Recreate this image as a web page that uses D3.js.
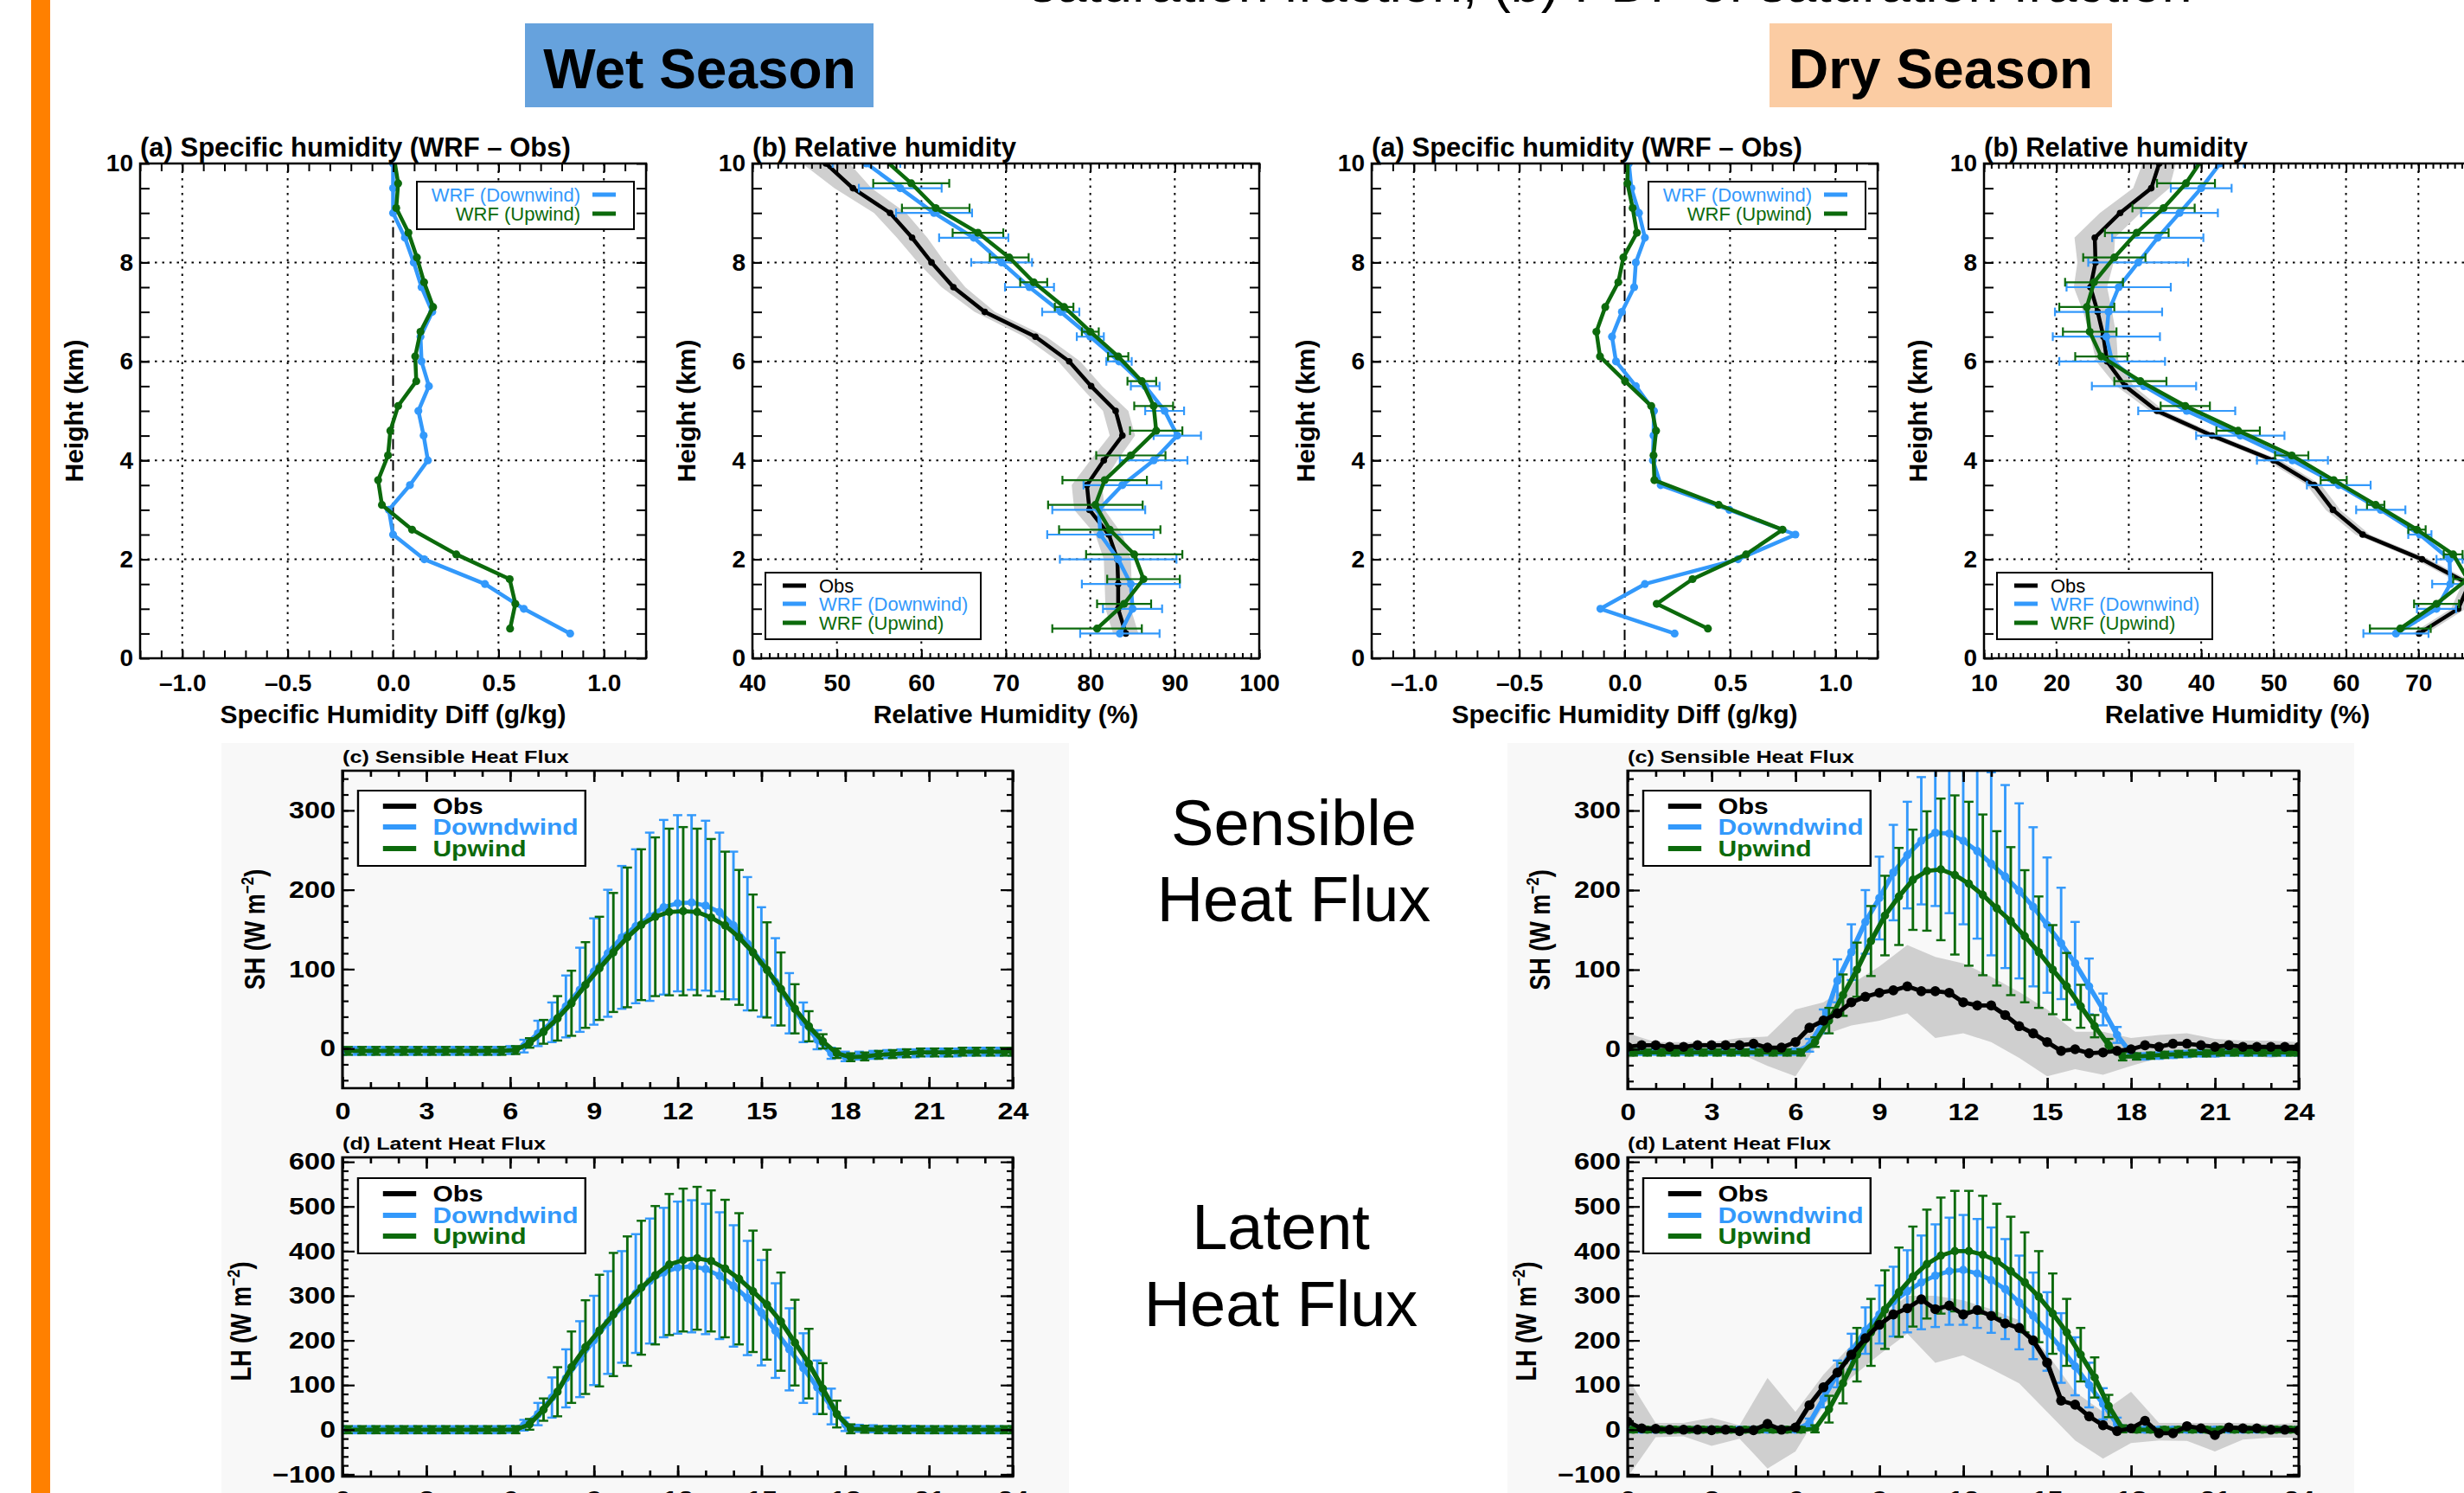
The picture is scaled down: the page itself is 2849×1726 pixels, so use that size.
<!DOCTYPE html>
<html><head><meta charset="utf-8">
<script src="https://cdn.jsdelivr.net/npm/d3@7"></script>
<style>
body{margin:0;background:#fff}
svg{display:block}
text{font-family:"Liberation Sans",Arial,Helvetica,sans-serif}
</style>
</head><body>
<svg id="c" width="2849" height="1726"></svg>
<script>
// ===================== DATA =====================
// vertical profiles
const heightsDown = [0.5,1,1.5,2,2.5,3,3.5,4,4.5,5,5.5,6,6.5,7,7.5,8,8.5,9,9.5,10];
const heightsUp   = [0.6,1.1,1.6,2.1,2.6,3.1,3.6,4.1,4.6,5.1,5.6,6.1,6.6,7.1,7.6,8.1,8.6,9.1,9.6,10.1];

const qDownWet = [0.84,0.62,0.436,0.148,0.0,-0.02,0.08,0.165,0.145,0.12,0.17,0.135,0.13,0.186,0.135,0.098,0.056,0.0,0.0,0.0];
const qUpWet   = [0.555,0.58,0.553,0.30,0.09,-0.053,-0.071,-0.024,-0.013,0.024,0.11,0.105,0.13,0.19,0.147,0.113,0.073,0.015,0.024,0.005];
const qDownDry = [0.237,-0.115,0.096,0.538,0.81,0.497,0.171,0.134,0.137,0.139,0.053,-0.041,-0.06,-0.013,0.045,0.053,0.096,0.068,0.032,0.02];
const qUpDry   = [0.395,0.152,0.322,0.576,0.749,0.446,0.141,0.137,0.149,0.126,0.002,-0.117,-0.134,-0.092,-0.03,-0.006,0.058,0.038,0.013,0.015];

const rhObsWet    = [84.2,83.3,83.3,83.2,82.2,79.9,79.6,81.6,83.8,83.0,80.1,77.5,73.5,67.5,63.8,61.2,58.9,56.3,51.9,48.7];
const rhObsWetSd  = [1.5,1.5,1.6,1.6,1.6,1.8,1.8,1.6,1.5,1.5,1.3,1.3,1.3,1.2,1.4,1.6,1.8,1.9,2.2,2.8];
const rhDownWet   = [83.5,85.0,84.8,83.3,81.2,81.0,83.8,87.5,90.3,88.8,86.5,83.4,80.0,76.5,72.8,69.5,66.2,61.5,57.5,53.5];
const rhDownWetSd = [4.7,3.5,5.8,6.9,6.3,5.5,4.6,4.0,2.8,2.3,1.7,1.5,1.6,2.2,2.9,3.6,4.1,4.5,4.9,4.0];
const rhUpWet     = [80.8,84.0,86.3,85.2,82.3,80.6,81.7,84.8,87.8,87.5,86.1,83.3,80.0,76.9,73.3,70.4,66.7,61.7,58.8,55.5];
const rhUpWetSd   = [5.3,3.2,4.3,5.7,6.0,5.6,5.0,4.1,3.1,2.3,1.7,1.2,1.0,1.1,1.6,2.3,3.0,4.0,4.5,4.0];

const rhObsDry    = [70.1,75.5,77.0,70.5,62.3,58.2,55.6,50.0,41.5,33.9,29.5,27.0,26.5,25.7,24.7,25.4,25.3,28.8,33.1,34.2];
const rhObsDrySd  = [1.0,1.0,1.0,1.0,1.0,1.0,1.0,1.0,1.0,1.0,1.2,1.5,1.8,2.0,2.3,2.5,2.8,2.8,2.5,2.3];
const rhDownDry   = [66.9,72.5,74.4,74.3,70.2,64.8,59.0,52.6,45.4,38.0,32.1,27.7,26.9,27.2,28.6,31.3,34.0,37.0,40.0,42.6];
const rhDownDrySd = [4.5,2.7,2.5,1.8,1.6,3.4,4.4,4.9,6.1,6.7,7.2,7.3,7.4,7.4,7.2,6.9,6.3,5.3,4.2,3.3];
const rhUpDry     = [67.5,72.5,76.8,74.8,69.8,64.1,58.3,52.5,45.1,37.8,31.6,26.2,24.6,24.2,25.2,28.0,31.1,34.8,37.9,40.2];
const rhUpDrySd   = [4.2,3.1,2.0,1.3,1.2,1.2,1.8,2.3,3.0,3.4,3.6,3.6,3.7,3.8,4.0,4.3,4.4,4.3,4.0,3.5];

// diurnal fluxes (local hour)
const hours   = [0,0.5,1,1.5,2,2.5,3,3.5,4,4.5,5,5.5,6,6.5,7,7.5,8,8.5,9,9.5,10,10.5,11,11.5,12,12.5,13,13.5,14,14.5,15,15.5,16,16.5,17,17.5,18,18.5,19,19.5,20,20.5,21,21.5,22,22.5,23,23.5,24];
const hoursUp = [0.2,0.7,1.2,1.7,2.2,2.7,3.2,3.7,4.2,4.7,5.2,5.7,6.2,6.7,7.2,7.7,8.2,8.7,9.2,9.7,10.2,10.7,11.2,11.7,12.2,12.7,13.2,13.7,14.2,14.7,15.2,15.7,16.2,16.7,17.2,17.7,18.2,18.7,19.2,19.7,20.2,20.7,21.2,21.7,22.2,22.7,23.2,23.7,24];
const bandHours = [0,1,2,3,4,5,6,7,8,9,10,11,12,13,14,15,16,17,18,19,20,21,22,23,24];

const shDownWet   = [-3,-3,-3,-3,-3,-3,-3,-3,-3,-3,-3,-3,-2,3,19,33,53,74,97,120,140,154,166,178,183,184,180,172,155,132,109,84,57,33,11,-6,-10,-9,-8,-7,-6,-6,-5,-5,-5,-4,-4,-4,-4];
const shDownWetSd = [5,5,5,5,5,5,5,5,5,5,5,5,5,8,16,25,39,53,67,80,90,97,106,110,111,110,107,100,93,84,69,55,38,25,12,7,6,5,5,5,5,5,5,5,5,5,5,5,5];
const shUpWet     = [-3,-3,-3,-3,-3,-3,-3,-3,-3,-3,-3,-3,-2,7,21,38,57,80,101,121,140,156,166,172,173,172,165,155,140,121,99,75,50,28,9,-6,-11,-10,-8,-7,-6,-5,-5,-5,-4,-4,-4,-4,-4];
const shUpWetSd   = [5,5,5,5,5,5,5,5,5,5,5,5,5,6,15,28,41,54,65,75,88,95,100,105,106,105,99,93,85,73,60,46,31,19,9,6,5,5,5,5,5,5,5,5,5,5,5,5,5];

const lhDownWet   = [0,0,0,0,0,0,0,0,0,0,0,0,1,10,35,72,115,158,200,240,275,305,333,352,363,366,360,345,322,295,262,222,180,138,95,52,12,3,2,1,1,1,0,0,0,0,0,0,0];
const lhDownWetSd = [8,8,8,8,8,8,8,8,8,8,8,8,8,12,25,45,65,85,100,115,125,133,140,145,148,148,146,142,136,128,118,106,92,78,60,40,15,8,8,8,8,8,8,8,8,8,8,8,8];
const lhUpWet     = [0,0,0,0,0,0,0,0,0,0,0,0,0,12,45,85,140,185,222,258,288,318,346,370,380,384,378,361,338,310,280,242,195,148,92,35,2,1,0,0,0,0,0,0,0,0,0,0,0];
const lhUpWetSd   = [8,8,8,8,8,8,8,8,8,8,8,8,8,12,25,55,80,105,125,138,145,150,155,158,160,160,158,154,147,136,123,110,96,78,57,30,10,8,8,8,8,8,8,8,8,8,8,8,8];

const shObsDry    = [3,5,5,3,3,5,5,5,5,7,2,2,9,27,36,45,59,66,71,74,79,73,73,71,59,55,55,43,29,20,9,-2,0,-5,-4,-2,0,5,3,7,7,5,3,5,3,3,3,3,3];
const shObsDryLo  = [-11,-5,-7,-3,-5,-21,-34,18,30,36,45,14,20,9,-11,-34,-25,-32,-21,-11,-9,-11,-7,-11,-7];
const shObsDryHi  = [20,9,9,9,14,16,50,59,82,104,131,116,108,91,72,50,22,22,14,18,20,13,11,11,9];
const shDownDry   = [-3,-3,-3,-3,-3,-3,-3,-3,-3,-3,-3,-3,-3,5,35,86,122,160,190,222,244,262,272,271,262,249,233,217,199,179,156,133,108,79,50,18,-5,-9,-8,-7,-6,-5,-5,-4,-4,-4,-4,-4,-4];
const shDownDrySd = [4,4,4,4,4,4,4,4,4,4,4,4,4,8,15,27,35,40,52,60,67,80,92,100,105,110,115,115,110,100,85,70,52,35,20,10,5,4,4,4,4,4,4,4,4,4,4,4,4];
const shUpDry     = [-4,-4,-4,-4,-4,-4,-4,-4,-4,-4,-4,-4,-4,9,36,68,100,136,168,192,213,224,226,219,208,194,177,161,142,122,100,79,54,29,5,-9,-9,-8,-7,-6,-5,-5,-4,-4,-4,-4,-4,-4,-4];
const shUpDrySd   = [4,4,4,4,4,4,4,4,4,4,4,4,4,6,16,26,34,44,50,61,63,75,89,100,103,101,97,93,83,70,56,42,27,14,8,5,4,4,4,4,4,4,4,4,4,4,4,4,4];

const lhObsDry    = [18,3,2,0,0,0,-1,0,-3,-1,13,0,5,55,95,128,168,205,235,258,272,292,270,278,258,268,255,238,228,200,150,65,56,30,10,-3,3,20,-8,-8,8,3,-12,5,3,3,0,0,-2];
const lhObsDryLo  = [-106,-17,-15,-36,-20,-87,-49,53,117,168,215,150,167,136,104,40,-24,-65,-30,-24,-25,-49,-22,-18,-18];
const lhObsDryHi  = [116,15,15,27,10,116,40,123,190,250,300,300,290,270,245,170,85,40,85,15,15,15,15,12,15];
const lhDownDry   = [0,0,0,0,0,0,0,0,0,0,0,0,0,15,70,125,175,222,258,287,310,330,345,355,358,350,335,315,285,255,220,183,142,100,58,12,2,0,0,0,0,0,0,0,0,0,0,0,0];
const lhDownDrySd = [6,6,6,6,6,6,6,6,6,6,6,6,6,10,20,30,40,52,65,78,92,105,115,120,123,122,118,112,105,97,88,78,65,50,35,15,6,6,6,6,6,6,6,6,6,6,6,6,6];
const lhUpDry     = [0,0,0,0,0,0,0,0,0,0,0,0,0,2,46,104,168,218,269,308,343,371,390,400,400,392,378,355,330,298,260,218,168,117,53,2,0,0,0,0,0,0,0,0,0,0,0,0,0];
const lhUpDrySd   = [6,6,6,6,6,6,6,6,6,6,6,6,6,8,30,45,60,75,88,100,112,122,130,135,135,132,128,122,112,102,90,75,60,45,25,8,6,6,6,6,6,6,6,6,6,6,6,6,6];

// tick labels
const heightTicks = [0,2,4,6,8,10];
const qTicks      = [-1.0,-0.5,0.0,0.5,1.0];
const rhWetTicks  = [40,50,60,70,80,90,100];
const rhDryTicks  = [10,20,30,40,50,60,70,80];
const hourTicks   = [0,3,6,9,12,15,18,21,24];
const shTicks     = [0,100,200,300];
const lhTicks     = [-100,0,100,200,300,400,500,600];

// ===================== DRAW =====================
const BLUE = "#3399fb", GREEN = "#0c6a0c", BAND = "#cfcfcf";
const svg = d3.select("#c");
let clipN = 0;

function axes(g, x, y, o) {
  const [xl, xr] = x.range(), [yb, yt] = y.range();
  const put = (axis, tr, w) => {
    const a = g.append("g").attr("transform", tr).call(axis);
    a.select(".domain").remove();
    a.selectAll(".tick line").attr("stroke", "#000").attr("stroke-width", w);
    a.attr("font-size", o.fs).attr("font-weight", "bold").attr("font-family", '"Liberation Sans",Arial,sans-serif');
    a.selectAll("text").attr("fill", "#000");
    return a;
  };
  const none = () => "";
  put(d3.axisBottom(x).tickValues(o.xMinor).tickSize(-o.xMin).tickFormat(none), `translate(0,${yb})`, o.tw);
  put(d3.axisTop(x).tickValues(o.xMinor).tickSize(-o.xMin).tickFormat(none), `translate(0,${yt})`, o.tw);
  put(d3.axisLeft(y).tickValues(o.yMinor).tickSize(-o.yMin).tickFormat(none), `translate(${xl},0)`, o.twy);
  put(d3.axisRight(y).tickValues(o.yMinor).tickSize(-o.yMin).tickFormat(none), `translate(${xr},0)`, o.twy);
  put(d3.axisTop(x).tickValues(o.xMajor).tickSize(-o.xMaj).tickFormat(none), `translate(0,${yt})`, o.tw);
  put(d3.axisRight(y).tickValues(o.yMajor).tickSize(-o.yMaj).tickFormat(none), `translate(${xr},0)`, o.twy);
  const bx = put(d3.axisBottom(x).tickValues(o.xMajor).tickSize(-o.xMaj).tickPadding(o.xPad).tickFormat(o.xFmt), `translate(0,${yb})`, o.tw);
  bx.selectAll("text").attr("dy", "0.72em");
  put(d3.axisLeft(y).tickValues(o.yMajor).tickSize(-o.yMaj).tickPadding(o.yPad).tickFormat(o.yFmt), `translate(${xl},0)`, o.twy);
}

// ---------- vertical profile panel ----------
const P_TOP = 189, P_BOT = 761;
function profilePanel(p) {
  const g = svg.append("g");
  const x = d3.scaleLinear().domain(p.xDomain).range([p.left, p.right]);
  const y = d3.scaleLinear().domain([0, 10]).range([P_BOT, P_TOP]);
  const cid = "clip" + (clipN++);
  svg.append("clipPath").attr("id", cid).append("rect")
    .attr("x", p.left).attr("y", P_TOP).attr("width", p.right - p.left).attr("height", P_BOT - P_TOP);

  const grid = g.append("g").attr("stroke", "#000").attr("stroke-width", 2).attr("stroke-dasharray", "2.5,6");
  grid.selectAll(".v").data(p.xGrid).join("line")
    .attr("x1", d => x(d)).attr("x2", d => x(d)).attr("y1", P_TOP).attr("y2", P_BOT);
  grid.selectAll(".h").data([2, 4, 6, 8]).join("line")
    .attr("y1", d => y(d)).attr("y2", d => y(d)).attr("x1", p.left).attr("x2", p.right);
  if (p.zero) g.append("line").attr("x1", x(0)).attr("x2", x(0)).attr("y1", P_TOP).attr("y2", P_BOT)
    .attr("stroke", "#000").attr("stroke-width", 2).attr("stroke-dasharray", "12,5,2.5,5");

  const L = g.append("g").attr("clip-path", `url(#${cid})`);
  if (p.band) {
    const b = p.band;
    const pts = b.h.map((h, i) => ({h, v: b.v[i], s: b.s[i]}));
    L.append("path").datum(pts).attr("fill", BAND)
      .attr("d", d3.area().y(d => y(d.h)).x0(d => x(d.v - d.s)).x1(d => x(d.v + d.s)).curve(d3.curveLinear));
    L.append("path").datum(pts).attr("fill", "none").attr("stroke", "#000").attr("stroke-width", 4.5)
      .attr("d", d3.line().y(d => y(d.h)).x(d => x(d.v)));
    L.selectAll(null).data(pts).join("circle").attr("cx", d => x(d.v)).attr("cy", d => y(d.h)).attr("r", 3.8).attr("fill", "#000");
  }
  p.series.forEach(s => {
    const pts = s.h.map((h, i) => ({h, v: s.v[i], s: s.s ? s.s[i] : 0}));
    const sg = L.append("g");
    if (s.s) {
      const eb = sg.append("g").attr("stroke", s.color).attr("stroke-width", 2.2);
      eb.selectAll(".b").data(pts).join("line")
        .attr("x1", d => x(d.v - d.s)).attr("x2", d => x(d.v + d.s)).attr("y1", d => y(d.h)).attr("y2", d => y(d.h));
      eb.selectAll(".l").data(pts).join("line")
        .attr("x1", d => x(d.v - d.s)).attr("x2", d => x(d.v - d.s)).attr("y1", d => y(d.h) - 5).attr("y2", d => y(d.h) + 5);
      eb.selectAll(".r").data(pts).join("line")
        .attr("x1", d => x(d.v + d.s)).attr("x2", d => x(d.v + d.s)).attr("y1", d => y(d.h) - 5).attr("y2", d => y(d.h) + 5);
    }
    sg.append("path").datum(pts).attr("fill", "none").attr("stroke", s.color).attr("stroke-width", 4.5)
      .attr("stroke-linejoin", "round").attr("d", d3.line().y(d => y(d.h)).x(d => x(d.v)));
    sg.selectAll("circle").data(pts).join("circle").attr("cx", d => x(d.v)).attr("cy", d => y(d.h)).attr("r", 4.6).attr("fill", s.color);
  });

  g.append("rect").attr("x", p.left).attr("y", P_TOP).attr("width", p.right - p.left).attr("height", P_BOT - P_TOP)
    .attr("fill", "none").attr("stroke", "#000").attr("stroke-width", 2.5);

  axes(g, x, y, {
    xMajor: p.xMajor, xMinor: p.xMinor, yMajor: heightTicks, yMinor: d3.range(0.5, 10, 0.5),
    xMaj: 10, xMin: p.xMinLen, yMaj: 11, yMin: 11, tw: 2, twy: 2,
    xPad: 18, yPad: 8, fs: 28, xFmt: p.fmt, yFmt: d3.format("d")
  });

  g.append("text").attr("x", p.left).attr("y", 181).attr("font-size", 31).attr("font-weight", "bold").text(p.title);
  g.append("text").attr("x", (p.left + p.right) / 2).attr("y", 836).attr("text-anchor", "middle")
    .attr("font-size", 30).attr("font-weight", "bold").text(p.xlab);
  g.append("text").attr("transform", `translate(${p.left - 66},${(P_TOP + P_BOT) / 2}) rotate(-90)`)
    .attr("text-anchor", "middle").attr("font-size", 30).attr("font-weight", "bold").text("Height (km)");

  const lg = p.legend;
  g.append("rect").attr("x", p.left + lg.x0).attr("y", lg.y0).attr("width", lg.x1 - lg.x0).attr("height", lg.y1 - lg.y0)
    .attr("fill", "#fff").attr("stroke", "#000").attr("stroke-width", 2);
  lg.items.forEach((it, i) => {
    const yy = lg.rows[i];
    g.append("line").attr("x1", p.left + lg.s0).attr("x2", p.left + lg.s1).attr("y1", yy).attr("y2", yy)
      .attr("stroke", it.color).attr("stroke-width", 5);
    g.append("text").attr("x", p.left + lg.tx).attr("y", yy).attr("dy", "0.36em")
      .attr("text-anchor", lg.anchor).attr("font-size", 22).attr("fill", it.color).text(it.label);
  });
}

const fmtQ = d => d3.format(".1f")(d).replace("\u2212", "\u2013");
const legA = (label) => ({x0: 320, x1: 571, y0: 210, y1: 265, rows: [225, 247], s0: 523, s1: 550, tx: 509, anchor: "end",
  items: [{label: "WRF (Downwind)", color: BLUE}, {label: "WRF (Upwind)", color: GREEN}]});
const legB = () => ({x0: 15, x1: 264, y0: 662, y1: 739, rows: [677, 698, 720], s0: 35, s1: 62, tx: 77, anchor: "start",
  items: [{label: "Obs", color: "#000"}, {label: "WRF (Downwind)", color: BLUE}, {label: "WRF (Upwind)", color: GREEN}]});

profilePanel({left: 162, right: 747, xDomain: [-1.2, 1.2], xMajor: qTicks, xMinor: d3.range(-1.2, 1.21, 0.1), xMinLen: 9,
  xGrid: [-1, -0.5, 0.5, 1], zero: true, fmt: fmtQ,
  title: "(a) Specific humidity (WRF \u2013 Obs)", xlab: "Specific Humidity Diff (g/kg)", legend: legA(),
  series: [{h: heightsDown, v: qDownWet, color: BLUE}, {h: heightsUp, v: qUpWet, color: GREEN}]});
profilePanel({left: 870, right: 1456, xDomain: [40, 100], xMajor: rhWetTicks, xMinor: d3.range(40, 100.5, 1), xMinLen: 6,
  xGrid: [50, 60, 70, 80, 90], fmt: d3.format("d"),
  title: "(b) Relative humidity", xlab: "Relative Humidity (%)", legend: legB(),
  band: {h: heightsDown, v: rhObsWet, s: rhObsWetSd},
  series: [{h: heightsDown, v: rhDownWet, s: rhDownWetSd, color: BLUE}, {h: heightsUp, v: rhUpWet, s: rhUpWetSd, color: GREEN}]});
profilePanel({left: 1586, right: 2171, xDomain: [-1.2, 1.2], xMajor: qTicks, xMinor: d3.range(-1.2, 1.21, 0.1), xMinLen: 9,
  xGrid: [-1, -0.5, 0.5, 1], zero: true, fmt: fmtQ,
  title: "(a) Specific humidity (WRF \u2013 Obs)", xlab: "Specific Humidity Diff (g/kg)", legend: legA(),
  series: [{h: heightsDown, v: qDownDry, color: BLUE}, {h: heightsUp, v: qUpDry, color: GREEN}]});
profilePanel({left: 2294, right: 2880, xDomain: [10, 80], xMajor: rhDryTicks, xMinor: d3.range(10, 80.5, 1), xMinLen: 6,
  xGrid: [20, 30, 40, 50, 60, 70], fmt: d3.format("d"),
  title: "(b) Relative humidity", xlab: "Relative Humidity (%)", legend: legB(),
  band: {h: heightsDown, v: rhObsDry, s: rhObsDrySd},
  series: [{h: heightsDown, v: rhDownDry, s: rhDownDrySd, color: BLUE}, {h: heightsUp, v: rhUpDry, s: rhUpDrySd, color: GREEN}]});

// ---------- flux panels (source image is stretched horizontally) ----------
const SX = 1.2;
function fluxPanel(p) {
  const W = (p.X1 - p.X0) / SX;
  const g = svg.append("g").attr("transform", `translate(${p.X0},0) scale(${SX},1)`);
  const x = d3.scaleLinear().domain([0, 24]).range([0, W]);
  const y = d3.scaleLinear().domain(p.yDomain).range([p.Y1, p.Y0]);
  const cid = "clip" + (clipN++);
  g.append("clipPath").attr("id", cid).append("rect").attr("x", 0).attr("y", p.Y0).attr("width", W).attr("height", p.Y1 - p.Y0);
  const L = g.append("g").attr("clip-path", `url(#${cid})`);

  if (p.band) {
    const pts = bandHours.map((t, i) => ({t, lo: p.band.lo[i], hi: p.band.hi[i]}));
    L.append("path").datum(pts).attr("fill", BAND)
      .attr("d", d3.area().x(d => x(d.t)).y0(d => y(d.lo)).y1(d => y(d.hi)));
  }
  p.series.forEach(s => {
    const pts = s.t.map((t, i) => ({t, v: s.v[i], s: s.s[i]}));
    const sg = L.append("g");
    const eb = sg.append("g").attr("stroke", s.color).attr("stroke-width", 2.4);
    eb.selectAll(".b").data(pts).join("line")
      .attr("x1", d => x(d.t)).attr("x2", d => x(d.t)).attr("y1", d => y(d.v - d.s)).attr("y2", d => y(d.v + d.s));
    eb.selectAll(".u").data(pts).join("line")
      .attr("x1", d => x(d.t) - 4.5).attr("x2", d => x(d.t) + 4.5).attr("y1", d => y(d.v + d.s)).attr("y2", d => y(d.v + d.s));
    eb.selectAll(".l").data(pts).join("line")
      .attr("x1", d => x(d.t) - 4.5).attr("x2", d => x(d.t) + 4.5).attr("y1", d => y(d.v - d.s)).attr("y2", d => y(d.v - d.s));
    sg.append("path").datum(pts).attr("fill", "none").attr("stroke", s.color).attr("stroke-width", 4.8)
      .attr("stroke-linejoin", "round").attr("d", d3.line().x(d => x(d.t)).y(d => y(d.v)));
    sg.selectAll("ellipse").data(pts).join("ellipse").attr("cx", d => x(d.t)).attr("cy", d => y(d.v))
      .attr("rx", 4).attr("ry", 4.8).attr("fill", s.color);
  });
  if (p.obs) {
    const pts = hours.map((t, i) => ({t, v: p.obs[i]}));
    L.append("path").datum(pts).attr("fill", "none").attr("stroke", "#000").attr("stroke-width", 4.8)
      .attr("stroke-linejoin", "round").attr("d", d3.line().x(d => x(d.t)).y(d => y(d.v)));
    L.selectAll(".ob").data(pts).join("ellipse").attr("cx", d => x(d.t)).attr("cy", d => y(d.v))
      .attr("rx", 4.8).attr("ry", 5.8).attr("fill", "#000");
  }

  g.append("rect").attr("x", 0).attr("y", p.Y0).attr("width", W).attr("height", p.Y1 - p.Y0)
    .attr("fill", "none").attr("stroke", "#000").attr("stroke-width", 2.6);
  axes(g, x, y, {
    xMajor: hourTicks, xMinor: d3.range(0, 25, 1), yMajor: p.yMajor, yMinor: p.yMinor,
    xMaj: 13, xMin: 7, yMaj: 14 / SX, yMin: 7 / SX, tw: 2.2, twy: 2.2,
    xPad: 17, yPad: 8 / SX, fs: 27, xFmt: d3.format("d"), yFmt: d3.format("d")
  });
  g.append("text").attr("x", 0).attr("y", p.Y0 - 9).attr("font-size", 21).attr("font-weight", "bold").text(p.title);
  const yl = g.append("text").attr("transform", `translate(${p.ylx / SX},${(p.Y0 + p.Y1) / 2 + p.yly}) rotate(-90)`)
    .attr("text-anchor", "middle").attr("font-size", 27).attr("font-weight", "bold");
  yl.append("tspan").text(p.ylab + " (W m");
  yl.append("tspan").attr("font-size", 17).attr("dy", -11).text("\u22122");
  yl.append("tspan").attr("dy", 11).text(")");

  const lg = p.legend;
  g.append("rect").attr("x", 15).attr("y", lg.y0).attr("width", 219).attr("height", lg.y1 - lg.y0)
    .attr("fill", "#fff").attr("stroke", "#000").attr("stroke-width", 2);
  [["Obs", "#000"], ["Downdwind", BLUE], ["Upwind", GREEN]].forEach(([lab, col], i) => {
    const yy = lg.rows[i];
    g.append("line").attr("x1", 39).attr("x2", 71).attr("y1", yy).attr("y2", yy).attr("stroke", col).attr("stroke-width", 6);
    g.append("text").attr("x", 87).attr("y", yy).attr("dy", "0.36em").attr("font-size", 25).attr("font-weight", "bold")
      .attr("fill", col).text(lab);
  });
}

// background of flux images
svg.append("rect").attr("x", 256).attr("y", 859).attr("width", 980).attr("height", 880).attr("fill", "#f8f8f8");
svg.append("rect").attr("x", 1743).attr("y", 859).attr("width", 979).attr("height", 880).attr("fill", "#f8f8f8");

const legC = {y0: 914, y1: 1001, rows: [932, 956, 981]};
const legD = {y0: 1362, y1: 1449, rows: [1380, 1405, 1429]};
const shMinor = d3.range(-40, 350, 20), lhMinor = d3.range(-100, 610, 20);

fluxPanel({X0: 396, X1: 1171, Y0: 891, Y1: 1258, yDomain: [-50, 350], yMajor: shTicks, yMinor: shMinor,
  title: "(c) Sensible Heat Flux", ylab: "SH", ylx: -90, yly: 0, legend: legC,
  series: [{t: hours, v: shDownWet, s: shDownWetSd, color: BLUE}, {t: hoursUp, v: shUpWet, s: shUpWetSd, color: GREEN}]});
fluxPanel({X0: 396, X1: 1171, Y0: 1338, Y1: 1707, yDomain: [-105, 610], yMajor: lhTicks, yMinor: lhMinor,
  title: "(d) Latent Heat Flux", ylab: "LH", ylx: -106, yly: 5, legend: legD,
  series: [{t: hours, v: lhDownWet, s: lhDownWetSd, color: BLUE}, {t: hoursUp, v: lhUpWet, s: lhUpWetSd, color: GREEN}]});
fluxPanel({X0: 1882, X1: 2658, Y0: 891, Y1: 1259, yDomain: [-50, 350], yMajor: shTicks, yMinor: shMinor,
  title: "(c) Sensible Heat Flux", ylab: "SH", ylx: -90, yly: 0, legend: legC,
  band: {lo: shObsDryLo, hi: shObsDryHi}, obs: shObsDry,
  series: [{t: hours, v: shDownDry, s: shDownDrySd, color: BLUE}, {t: hoursUp, v: shUpDry, s: shUpDrySd, color: GREEN}]});
fluxPanel({X0: 1882, X1: 2658, Y0: 1338, Y1: 1707, yDomain: [-105, 610], yMajor: lhTicks, yMinor: lhMinor,
  title: "(d) Latent Heat Flux", ylab: "LH", ylx: -106, yly: 5, legend: legD,
  band: {lo: lhObsDryLo, hi: lhObsDryHi}, obs: lhObsDry,
  series: [{t: hours, v: lhDownDry, s: lhDownDrySd, color: BLUE}, {t: hoursUp, v: lhUpDry, s: lhUpDrySd, color: GREEN}]});

// ---------- slide decorations ----------
svg.append("rect").attr("x", 36).attr("y", 0).attr("width", 22).attr("height", 1726).attr("fill", "#ff8000");
svg.append("text").attr("x", 1190).attr("y", 2).attr("font-size", 63).text("saturation fraction, (b) PDF of saturation fraction");
svg.append("rect").attr("x", 607).attr("y", 27).attr("width", 403).attr("height", 97).attr("fill", "#66a2dd");
svg.append("text").attr("x", 809).attr("y", 102).attr("text-anchor", "middle").attr("font-size", 64).attr("font-weight", "bold").text("Wet Season");
svg.append("rect").attr("x", 2046).attr("y", 27).attr("width", 396).attr("height", 97).attr("fill", "#fbcca3");
svg.append("text").attr("x", 2244).attr("y", 102).attr("text-anchor", "middle").attr("font-size", 64).attr("font-weight", "bold").text("Dry Season");
[["Sensible", 1496, 977], ["Heat Flux", 1496, 1065], ["Latent", 1481, 1444], ["Heat Flux", 1481, 1533]].forEach(([t, xx, yy]) =>
  svg.append("text").attr("x", xx).attr("y", yy).attr("text-anchor", "middle").attr("font-size", 74).text(t));
</script>
</body></html>
